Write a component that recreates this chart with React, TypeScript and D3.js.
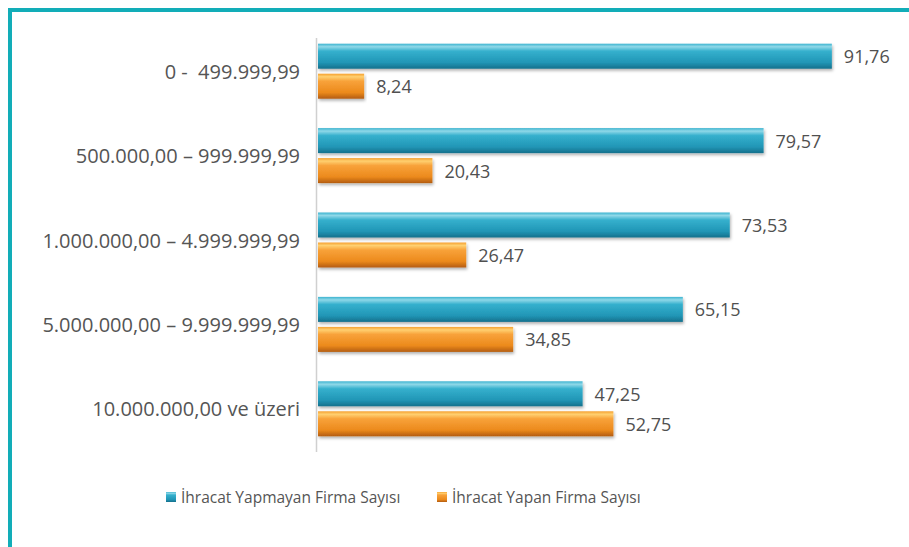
import React from "react";
import * as d3 from "d3";

const categories = [
  "0 -  499.999,99",
  "500.000,00 – 999.999,99",
  "1.000.000,00 – 4.999.999,99",
  "5.000.000,00 – 9.999.999,99",
  "10.000.000,00 ve üzeri",
];
const seriesNames = ["İhracat Yapmayan Firma Sayısı", "İhracat Yapan Firma Sayısı"];
const nonExporters = [91.76, 79.57, 73.53, 65.15, 47.25];
const exporters = [8.24, 20.43, 26.47, 34.85, 52.75];
const valueLabels1 = ["91,76", "79,57", "73,53", "65,15", "47,25"];
const valueLabels2 = ["8,24", "20,43", "26,47", "34,85", "52,75"];

const W = 909;
const H = 547;

export default function App() {
  const x = d3.scaleLinear().domain([0, 100]).range([318, 878]);
  const y = d3.scaleBand<string>().domain(categories).range([29, 451]);
  const band = y.bandwidth();
  const barH = 25;
  const gap = 5;
  const font = "'Open Sans', sans-serif";
  const series = [
    { vals: nonExporters, labels: valueLabels1, grad: "gBlue", off: -gap / 2 - barH },
    { vals: exporters, labels: valueLabels2, grad: "gOrange", off: gap / 2 },
  ];
  return (
    <svg width={W} height={H} style={{ position: "absolute", left: 0, top: 0, background: "#fff" }}>
      <defs>
        <linearGradient id="gBlue" x1="0" y1="0" x2="0" y2="1">
          <stop offset="0" stopColor="#3db4d0" />
          <stop offset="0.12" stopColor="#8fd8e8" />
          <stop offset="0.3" stopColor="#35b0cd" />
          <stop offset="0.75" stopColor="#2196b6" />
          <stop offset="1" stopColor="#15708c" />
        </linearGradient>
        <linearGradient id="gOrange" x1="0" y1="0" x2="0" y2="1">
          <stop offset="0" stopColor="#f5a030" />
          <stop offset="0.12" stopColor="#ffd070" />
          <stop offset="0.3" stopColor="#f8a23a" />
          <stop offset="0.75" stopColor="#ec8a1c" />
          <stop offset="1" stopColor="#b35c10" />
        </linearGradient>
        <filter id="shadow" x="-5%" y="-20%" width="110%" height="160%">
          <feDropShadow dx="1" dy="2" stdDeviation="1.5" floodColor="#000" floodOpacity="0.3" />
        </filter>
      </defs>
      {/* frame */}
      <line x1={8} y1={10} x2={W} y2={10} stroke="#12adb8" strokeWidth={4} />
      <line x1={10} y1={8} x2={10} y2={H} stroke="#12adb8" strokeWidth={4} />
      {/* axis */}
      <line x1={316.5} y1={38} x2={316.5} y2={452} stroke="#d0d0d0" strokeWidth={1.5} />
      {categories.map((c, i) => {
        const cy = (y(c) ?? 0) + band / 2;
        return (
          <g key={c}>
            <text x={300} y={cy} textAnchor="end" dominantBaseline="central" fontFamily={font} fontSize={20} fill="#555" style={{ whiteSpace: "pre" }}>
              {c}
            </text>
            {series.map((s, k) => {
              const by = cy + s.off;
              const w = x(s.vals[i]) - x(0);
              return (
                <g key={k}>
                  <rect x={x(0)} y={by} width={w} height={barH} fill={`url(#${s.grad})`} filter="url(#shadow)" />
                  <text x={x(s.vals[i]) + 12} y={by + barH / 2} dominantBaseline="central" fontFamily={font} fontSize={18} fill="#505050">
                    {s.labels[i]}
                  </text>
                </g>
              );
            })}
          </g>
        );
      })}
      {/* legend */}
      {[
        { x: 166, grad: "gBlue", name: seriesNames[0] },
        { x: 437, grad: "gOrange", name: seriesNames[1] },
      ].map((l) => (
        <g key={l.name}>
          <rect x={l.x} y={492} width={10} height={10} fill={`url(#${l.grad})`} />
          <text x={l.x + 15} y={497} dominantBaseline="central" fontFamily={font} fontSize={15.5} fill="#555">
            {l.name}
          </text>
        </g>
      ))}
    </svg>
  );
}
